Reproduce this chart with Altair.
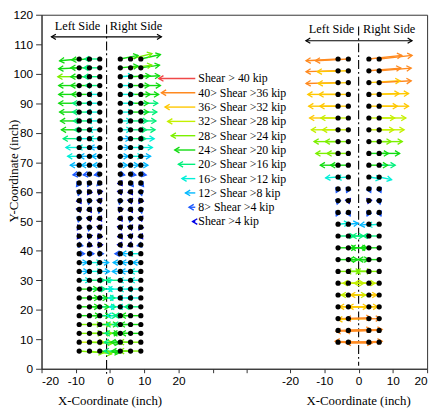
import math
import altair as alt
import pandas as pd

# ---------------- data ----------------
# Left specimen: rows (inch) and dot columns (inch)
L_ROWS = [105, 102, 99, 96, 93, 90, 87, 84, 81, 78, 75, 72, 69, 66, 63, 60, 57,
          54, 51, 48, 45, 42, 39, 36, 33, 30, 27, 24, 21, 18, 15, 12, 9, 6]
L_XS = [-9, -6, -3, 3, 6, 9]
# horizontal shear component (kip, + = to the right) for each dot
L_SX = [
    [-22, -20, -17, 20, 24, 22],
    [-23, -21, -18, 20, 24, 21],
    [-24, -21, -18, 14, 22, 21],
    [-23, -21, -16, 14, 21, 22],
    [-23, -20, -14, 15, 22, 20],
    [-23, -19, -15, 15, 20, 19],
    [-22, -19, -15, 14, 20, 18],
    [-21, -18, -14, 12, 19, 17],
    [-20, -17, -13, 12, 18, 16],
    [-18, -15, -12, 11, 17, 15],
    [-15, -13, -11, 10, 14, 13],
    [-13, -11, -9, 9, 13, 11],
    [-10, -9, -8, 8, 9, 8],
    [-7, -7, -6, 5, 6, 6],
    [-3, -2, -3, 2, 3, 3],
    [-1, -2, -1, 1, 2, 1],
    [2, -1, 1, -1, 1, -2],
    [1, 2, -1, -1, 2, 1],
    [-1, 1, 2, 2, -1, 1],
    [-2, -1, 1, 1, 1, -2],
    [-2, -1, -2, 2, 1, 2],
    [4, 3, 3, -3, -3, -4],
    [6, 5, 4, -6, -10, -14],
    [9, 13, 10, -8, -10, -9],
    [10, 14, 11, -9, -11, -12],
    [12, 17, 14, -16, -13, -12],
    [21, 18, 15, -14, -13, -15],
    [22, 20, 17, -13, -14, -15],
    [22, 22, 18, -12, -14, -18],
    [23, 23, 19, -15, -18, -22],
    [25, 24, 20, -16, -19, -23],
    [26, 25, 21, -17, -20, -22],
    [28, 26, 22, -18, -22, -24],
    [27, 25, 22, -18, -21, -24],
]
# vertical shear component (kip, + = up)
L_SY = [
    [-2, -1, 0, 4, 6, 5],
    [-1, 0, 0, 2, 3, 3],
    [0, 0, 0, 1, 1, 1],
    [0, 0, 0, 0, 0, 0],
    [0, 0, 0, 0, 0, 0],
    [0, 0, 0, 0, 0, 0],
    [0, 0, 0, 0, 0, 0],
    [0, 0, 0, 0, 0, 0],
    [0, 0, 0, 0, 0, 0],
    [0, 0, 0, 0, 0, 0],
    [0, 0, 0, 0, 0, 0],
    [0, 0, 0, 0, 0, 0],
    [0, 0, 0, 0, 0, 0],
    [-1, -1, -1, -1, -1, -1],
    [-4, -4, -3, -3, -4, -4],
    [-4, -3, -3, -3, -3, -4],
    [-3, -4, -3, -4, -3, -3],
    [-3, -3, -4, -3, -3, -4],
    [-4, -3, -3, -3, -4, -3],
    [-3, -4, -3, -3, -3, -3],
    [-3, -3, -3, -3, -3, -3],
    [-1, -1, 0, 0, -1, -1],
    [0, 0, 0, 0, 0, 0],
    [0, 0, 0, 0, 0, 0],
    [0, 0, 0, 0, 0, 0],
    [0, 0, 0, 0, 0, 0],
    [0, 0, 0, 0, 0, 0],
    [0, 0, 0, 0, 0, 0],
    [0, 0, 0, 0, 0, 0],
    [0, 0, 0, 0, 0, 0],
    [0, 0, 0, 0, 0, 0],
    [0, 0, 0, 0, 0, 0],
    [0, -1, -1, 0, 0, 0],
    [-2, -3, -2, 0, 0, 0],
]

# Right specimen
R_ROWS = [105, 101, 97, 93, 89, 85, 81, 77, 73, 69, 65, 61, 57, 53, 49, 45, 41,
          37, 33, 29, 25, 21, 17, 13, 9]
R_XS = [-6, -3, 3, 6]
R_SX = [
    [-36, -37, 37, 37],
    [-36, -35, 36, 36],
    [-36, -34, 35, 36],
    [-34, -33, 34, 33],
    [-33, -32, 32, 33],
    [-32, -31, 29, 30],
    [-30, -29, 28, 28],
    [-27, -26, 25, 26],
    [-25, -24, 22, 23],
    [-20, -20, 21, 18],
    [-14, -13, 13, 14],
    [-2, -2, 2, 2],
    [-1, 1, -1, 1],
    [-2, 2, -2, 2],
    [12, 11, -10, -13],
    [18, 17, -19, -18],
    [20, 21, -20, -21],
    [22, 23, -22, -23],
    [25, 26, -25, -26],
    [29, 30, -29, -28],
    [31, 32, -31, -32],
    [33, 33, -33, -34],
    [37, 36, -35, -37],
    [37, 38, -37, -38],
    [38, 38, -38, -37],
]
R_SY = [
    [-2, -2, 4, 4],
    [-1, -1, 3, 3],
    [-1, -1, 2, 2],
    [0, 0, 1, 1],
    [0, 0, 0, 0],
    [0, 0, 0, 0],
    [0, 0, 0, 0],
    [0, 0, 0, 0],
    [0, 0, 0, 0],
    [0, 0, 0, 0],
    [-1, -1, -2, -3],
    [-4, -4, -4, -4],
    [-4, -3, -3, -4],
    [-4, -4, -4, -4],
    [1, 1, -1, -1],
    [0, 0, 0, 0],
    [0, 0, 0, 0],
    [0, 0, 0, 0],
    [0, 0, 0, 0],
    [0, 0, 0, 0],
    [0, 0, 0, 0],
    [0, 0, 0, 0],
    [1, 0, -1, 0],
    [1, 1, -1, -1],
    [-1, 1, 1, -1],
]

LEG_LABELS = ["Shear > 40 kip", "40> Shear >36 kip", "36> Shear  >32 kip",
              "32> Shear  >28 kip", "28> Shear >24 kip", "24> Shear >20 kip",
              "20> Shear >16 kip", "16> Shear >12 kip", "12> Shear >8 kip",
              "8> Shear >4 kip", "Shear >4 kip"]
LEG_SHEAR = [41, 38, 34, 31, 27, 23, 19, 15, 11, 7, 3]
SHEAR_BREAKS = [4, 8, 12, 16, 20, 24, 28, 32, 36, 40]
SHEAR_COLORS = ["#0000e6", "#1f5cff", "#00b8ff", "#00f0d8", "#00f07a", "#10dc10",
                "#7cf000", "#c4f000", "#ffc800", "#ff8a20", "#f04848"]
X_TICKS = [-20, -10, 0, 10, 20]
Y_TICKS = [0, 10, 20, 30, 40, 50, 60, 70, 80, 90, 100, 110, 120]
HEADERS = ["Left Side", "Right Side"]
X_TITLE = "X-Coordinate (inch)"
Y_TITLE = "Y-Coordinate (inch)"

# ---------------- layout ----------------
OFF = 72.6          # x offset of the right specimen's zero
XMIN, XMAX = -20, 92.6
W, H = 391, 359
K = 0.26            # inch of arrow per kip (x direction)
YK = K * (W / (XMAX - XMIN)) / (H / 120.0)
HEAD = "M -1 -0.6 L 0 0 L -1 0.6"
SERIF = "Liberation Serif"


def vec_rows(ys, xs, SX, SY, off):
    out = []
    for i, y in enumerate(ys):
        for j, x0 in enumerate(xs):
            sx, sy = SX[i][j], SY[i][j]
            out.append(dict(x=x0 + off, y=y, xe=x0 + off + sx * K, ye=y + sy * YK,
                            m=math.hypot(sx, sy),
                            ang=math.degrees(math.atan2(-sy, sx)) % 360))
    return out


vec = pd.DataFrame(vec_rows(L_ROWS, L_XS, L_SX, L_SY, 0) +
                   vec_rows(R_ROWS, R_XS, R_SX, R_SY, OFF))
dots = vec[["x", "y"]]

xvals = X_TICKS + [30, 40] + [t + OFF for t in X_TICKS]
xscale = alt.Scale(domain=[XMIN, XMAX], nice=False, zero=False)
yscale = alt.Scale(domain=[0, 120], nice=False, zero=False)
xaxis = alt.Axis(values=xvals, title=None, tickSize=4, labelPadding=3,
                 labelExpr="datum.value > 45 ? '' + round(datum.value - 72.6) : (datum.value > 25 ? '' : '' + datum.value)")
yaxis = alt.Axis(values=Y_TICKS, title=Y_TITLE, titleFont=SERIF, titleFontSize=13,
                 titleFontWeight="normal", titleX=-28, titleY=158, titleAngle=270,
                 titleAlign="center", titleBaseline="middle", tickSize=6, labelPadding=3)


def X(f):
    return alt.X(f"{f}:Q", scale=xscale, axis=xaxis)


def Y(f):
    return alt.Y(f"{f}:Q", scale=yscale, axis=yaxis)


color = alt.Color("m:Q", scale=alt.Scale(type="threshold", domain=SHEAR_BREAKS,
                                         range=SHEAR_COLORS), legend=None)

# center lines (dash-dot)
cl = pd.DataFrame([dict(x=-1.0, y=116.6, y2=-2.0), dict(x=OFF, y=116.0, y2=1.0)])
center = alt.Chart(cl).mark_rule(color="black", strokeWidth=1.1, strokeDash=[9, 3, 2, 3]).encode(
    x=X("x"), y=Y("y"), y2="y2:Q")

lines = alt.Chart(vec).mark_rule(strokeWidth=1.4).encode(
    x=X("x"), y=Y("y"), x2="xe:Q", y2="ye:Q", color=color)
heads = alt.Chart(vec).mark_point(shape=HEAD, filled=False, size=90, strokeWidth=1.3,
                                   opacity=1).encode(
    x=X("xe"), y=Y("ye"), angle=alt.Angle("ang:Q", scale=None), color=color)
dotl = alt.Chart(dots).mark_circle(size=28, color="black", opacity=1).encode(x=X("x"), y=Y("y"))

# legend
leg = pd.DataFrame(dict(label=LEG_LABELS, m=LEG_SHEAR))
leg["y"] = [98.4 - 4.85 * i for i in range(len(leg))]
leg["x"] = 24.9
leg["xe"] = leg["x"] - leg["m"] * K
leg["xt"] = 25.8
leg["ang"] = 180
leg_lines = alt.Chart(leg).mark_rule(strokeWidth=1.4).encode(
    x=X("x"), x2="xe:Q", y=Y("y"), color=color)
leg_heads = alt.Chart(leg).mark_point(shape=HEAD, filled=False, size=90, strokeWidth=1.4,
                                       opacity=1).encode(
    x=X("xe"), y=Y("y"), angle=alt.Angle("ang:Q", scale=None), color=color)
leg_text = alt.Chart(leg).mark_text(align="left", baseline="middle", font=SERIF,
                                    fontSize=12, color="black").encode(
    x=X("xt"), y=Y("y"), text="label:N")

# header double arrows and texts
hd = pd.DataFrame([dict(x=-17.1, xe=15.0, y=112.5), dict(x=OFF - 15.4, xe=OFF + 15.6, y=111.2)])
hd_lines = alt.Chart(hd).mark_rule(color="black", strokeWidth=1.1).encode(
    x=X("x"), x2="xe:Q", y=Y("y"))
hh = pd.DataFrame([dict(x=-17.1, y=112.5, ang=180), dict(x=15.0, y=112.5, ang=0),
                   dict(x=OFF - 15.4, y=111.2, ang=180), dict(x=OFF + 15.6, y=111.2, ang=0)])
hd_heads = alt.Chart(hh).mark_point(shape=HEAD, filled=False, size=80, strokeWidth=1.2,
                                     color="black", opacity=1).encode(
    x=X("x"), y=Y("y"), angle=alt.Angle("ang:Q", scale=None))
ht = pd.DataFrame([dict(x=-9.5, y=116.0, t=HEADERS[0]), dict(x=7.6, y=116.0, t=HEADERS[1]),
                   dict(x=OFF - 7.9, y=115.0, t=HEADERS[0]), dict(x=OFF + 8.9, y=115.0, t=HEADERS[1])])
hd_text = alt.Chart(ht).mark_text(font=SERIF, fontSize=12.5, color="black", baseline="middle").encode(
    x=X("x"), y=Y("y"), text="t:N")

xt = pd.DataFrame([dict(x=0.0, t=X_TITLE), dict(x=OFF, t=X_TITLE)])
x_titles = alt.Chart(xt).mark_text(font=SERIF, fontSize=13, color="black", baseline="middle").encode(
    x=X("x"), y=alt.value(H + 33), text="t:N")

chart = alt.layer(center, lines, heads, dotl, leg_lines, leg_heads, leg_text,
                  hd_lines, hd_heads, hd_text, x_titles).properties(
    width=W, height=H,
    autosize=alt.AutoSizeParams(type="none"),
    padding={"left": 34, "top": 4, "right": 8, "bottom": 40},
).configure_view(stroke="#333", strokeWidth=1).configure_axis(
    domainColor="#333", tickColor="#333", labelColor="black", labelFont="Liberation Sans",
    labelFontSize=12, grid=False)

chart.save("out.html", embed_options={"renderer": "svg", "actions": False})
